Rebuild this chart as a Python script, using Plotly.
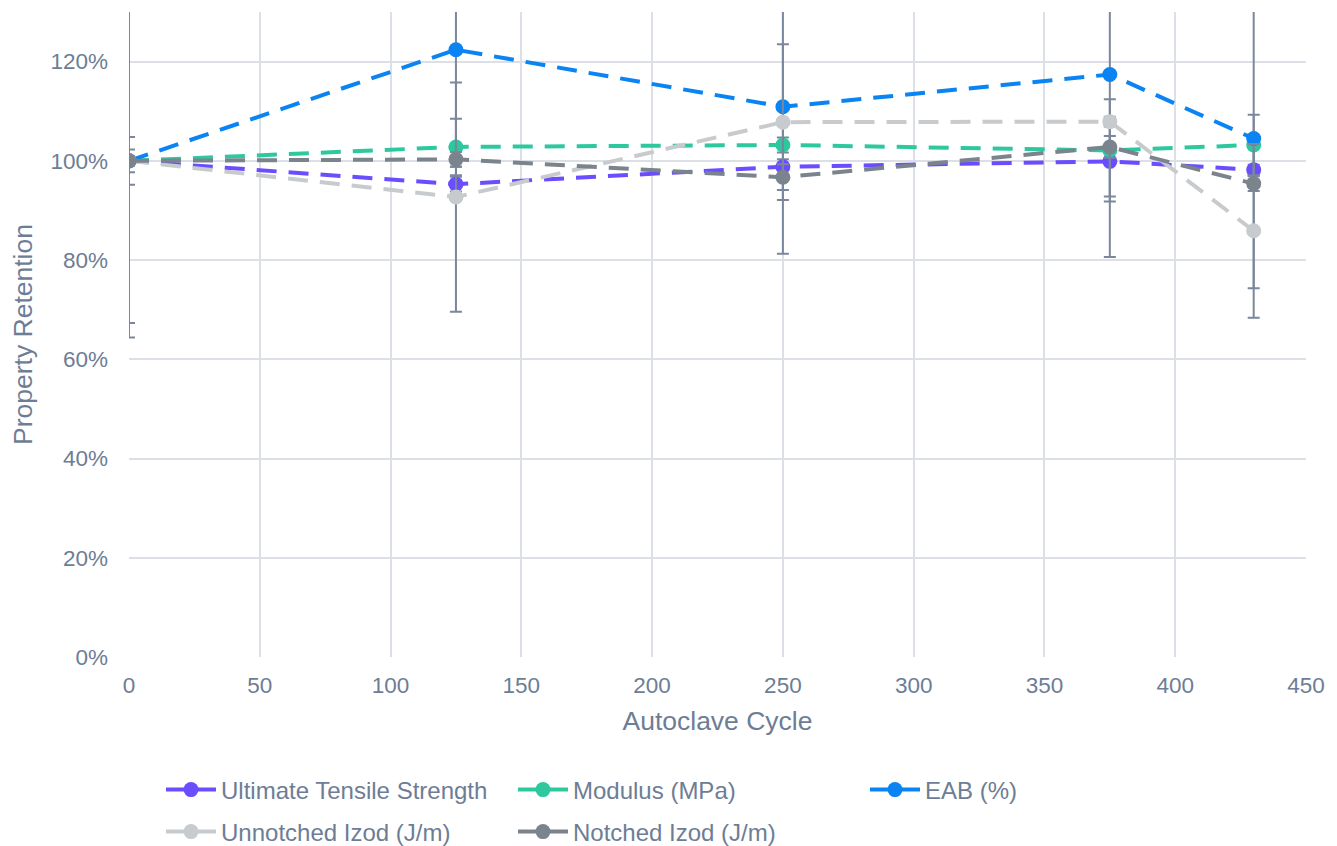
import plotly.graph_objects as go

cycles = [0, 125, 250, 375, 430]

uts = [100.0, 95.3, 98.8, 99.9, 98.2]
modulus = [100.0, 102.8, 103.2, 102.1, 103.2]
eab = [100.0, 122.4, 110.9, 117.4, 104.5]
unnotched = [100.0, 92.7, 107.8, 107.9, 85.9]
notched = [100.0, 100.3, 96.7, 102.8, 95.4]

uts_err = [1.0, 1.5, 1.5, 7.1, 1.0]
modulus_err = [4.8, 5.7, 1.5, 10.3, 6.1]
eab_err = [35.6, 23.6, 29.6, 36.8, 30.2]
unnotched_err = [32.7, 23.1, 15.7, 1.0, 17.5]
notched_err = [2.3, 1.5, 2.6, 2.2, 1.5]

names = ["Ultimate Tensile Strength", "Modulus (MPa)", "EAB (%)",
         "Unnotched Izod (J/m)", "Notched Izod (J/m)"]
series = [uts, modulus, eab, unnotched, notched]
errors = [uts_err, modulus_err, eab_err, unnotched_err, notched_err]
colors = ["#6a4dff", "#2ec89f", "#0a84f2", "#c8cbcd", "#7b838d"]
legends = ["legend", "legend", "legend", "legend2", "legend2"]

TXT = "#6d7d95"
ERR = "#7a879c"
FONT = "Liberation Sans, Arial, sans-serif"

# page body has an 8px margin, so the figure is drawn 8px in from the top-left
W, H, OFF = 1329, 838, 8

fig = go.Figure()
for name, ys, es, c, lg in zip(names, series, errors, colors, legends):
    fig.add_trace(go.Scatter(
        x=cycles, y=[v / 100 for v in ys], name=name, mode="lines+markers",
        line=dict(color=c, width=4, dash="20px,12px"),
        marker=dict(color=c, size=15),
        error_y=dict(type="data", array=[e / 100 for e in es], visible=True,
                     color=ERR, thickness=2, width=6),
        legend=lg,
    ))

legend_common = dict(orientation="h", xref="container", yref="container",
                     x=(161 - OFF) / W, xanchor="left", yanchor="middle",
                     entrywidth=287, entrywidthmode="pixels", itemwidth=50,
                     font=dict(size=24, color=TXT), bgcolor="rgba(0,0,0,0)")

fig.update_layout(
    width=W, height=H,
    paper_bgcolor="white", plot_bgcolor="white",
    margin=dict(l=121, r=31, t=4, b=189),
    font=dict(family=FONT, color=TXT, size=22),
    xaxis=dict(range=[0, 450], dtick=50, showgrid=True, gridcolor="#dcdfe6",
               gridwidth=1.5, zeroline=False, showline=False, ticks="",
               ticklabelstandoff=12,
               tickfont=dict(size=22.5, color=TXT),
               title=dict(text="Autoclave Cycle", font=dict(size=26.5, color=TXT), standoff=14)),
    yaxis=dict(range=[0, 1.3], dtick=0.2, tickformat=".0%", showgrid=True,
               gridcolor="#dcdfe6", gridwidth=1.5, zeroline=False, showline=False,
               ticks="", ticklabelstandoff=20, tickfont=dict(size=22.5, color=TXT),
               title=dict(text="Property Retention", font=dict(size=26.5, color=TXT), standoff=11)),
    legend=dict(**legend_common, y=1 - (790 - OFF) / H),
    legend2=dict(**legend_common, y=1 - (832 - OFF) / H),
)

fig.write_html("out.html")
